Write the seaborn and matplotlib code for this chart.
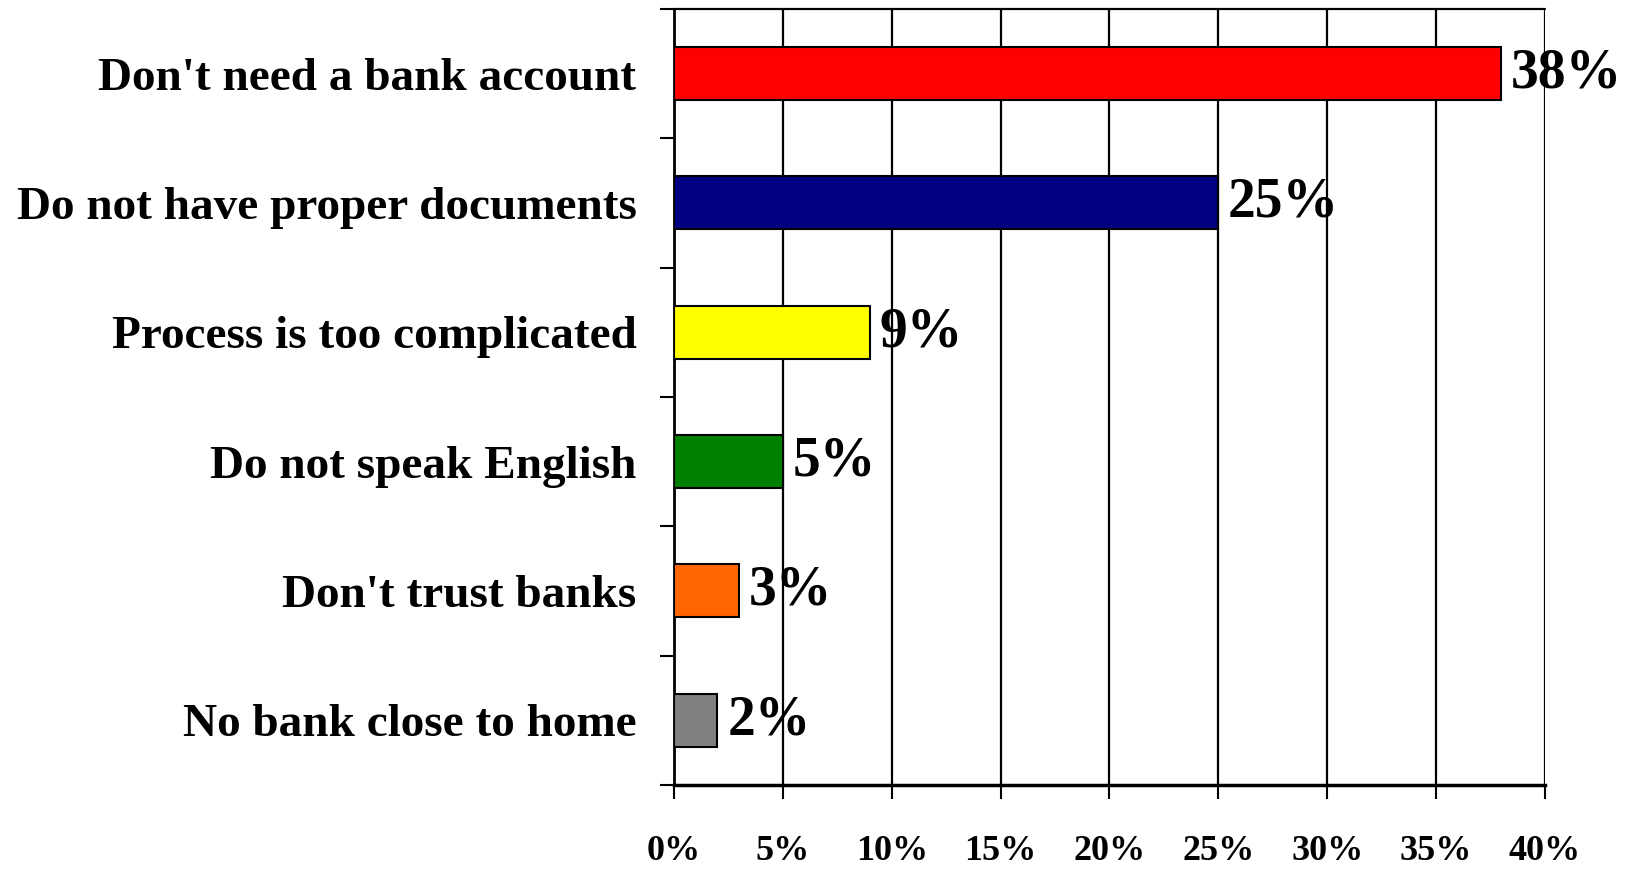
import numpy as np
import pandas as pd
import matplotlib
matplotlib.use('Agg')
import matplotlib.pyplot as plt
import seaborn as sns
from matplotlib.ticker import FixedLocator

reasons = [
    "Don't need a bank account",
    "Do not have proper documents",
    "Process is too complicated",
    "Do not speak English",
    "Don't trust banks",
    "No bank close to home",
]
shares = [38, 25, 9, 5, 3, 2]
bar_colors = ['#FF0000', '#000080', '#FFFF00', '#008000', '#FF6600', '#808080']
x_ticks = [0, 5, 10, 15, 20, 25, 30, 35, 40]

df = pd.DataFrame({'reason': reasons, 'share': shares})

sns.set_style('white')
plt.rcParams['font.family'] = ['Liberation Serif', 'DejaVu Serif']
plt.rcParams['font.weight'] = 'bold'
plt.rcParams['text.color'] = 'black'
plt.rcParams['xtick.color'] = 'black'
plt.rcParams['ytick.color'] = 'black'

fig = plt.figure(figsize=(16.33, 8.69), dpi=100)
ax = fig.add_axes([0.4127, 0.0967, 0.5334, 0.8930])

sns.barplot(data=df, x='share', y='reason', hue='reason', palette=bar_colors,
            order=reasons, hue_order=reasons, legend=False, width=0.41,
            saturation=1, edgecolor='black', linewidth=1.5, ax=ax, zorder=3)

ax.set_xlim(0, 40)
ax.set_ylim(len(reasons) - 0.5, -0.5)

# vertical grid lines at every 5%
for x in x_ticks[1:]:
    ax.axvline(x, color='black', lw=1.6, zorder=1)

ax.set_xticks(x_ticks)
ax.set_xticklabels([f'{x}%' for x in x_ticks], fontsize=26, fontweight='bold')
ax.tick_params(axis='x', direction='out', length=10, width=1.5, color='black',
               labelcolor='black', pad=26, bottom=True)

# category labels at centres, tick marks between categories
ax.set_yticks(range(len(reasons)))
ax.set_yticklabels(reasons, fontsize=34, fontweight='bold')
ax.tick_params(axis='y', which='major', length=0, pad=27, labelcolor='black')
ax.yaxis.set_minor_locator(FixedLocator(np.arange(-0.5, len(reasons), 1.0)))
ax.tick_params(axis='y', which='minor', direction='out', length=10, width=1.5,
               color='black', left=True)

ax.set_xlabel('')
ax.set_ylabel('')

for side in ['top', 'right']:
    ax.spines[side].set_visible(False)
ax.spines['left'].set_linewidth(2)
ax.spines['left'].set_color('black')
ax.spines['bottom'].set_linewidth(2.5)
ax.spines['bottom'].set_color('black')
ax.axhline(-0.5, color='black', lw=1.6, zorder=1, clip_on=False)

for container in ax.containers:
    ax.bar_label(container, labels=[f'{v:.0f}%' for v in container.datavalues],
                 padding=7, fontsize=40, fontweight='bold', color='black', zorder=4)

plt.savefig('out.png', dpi=100)
plt.close()
